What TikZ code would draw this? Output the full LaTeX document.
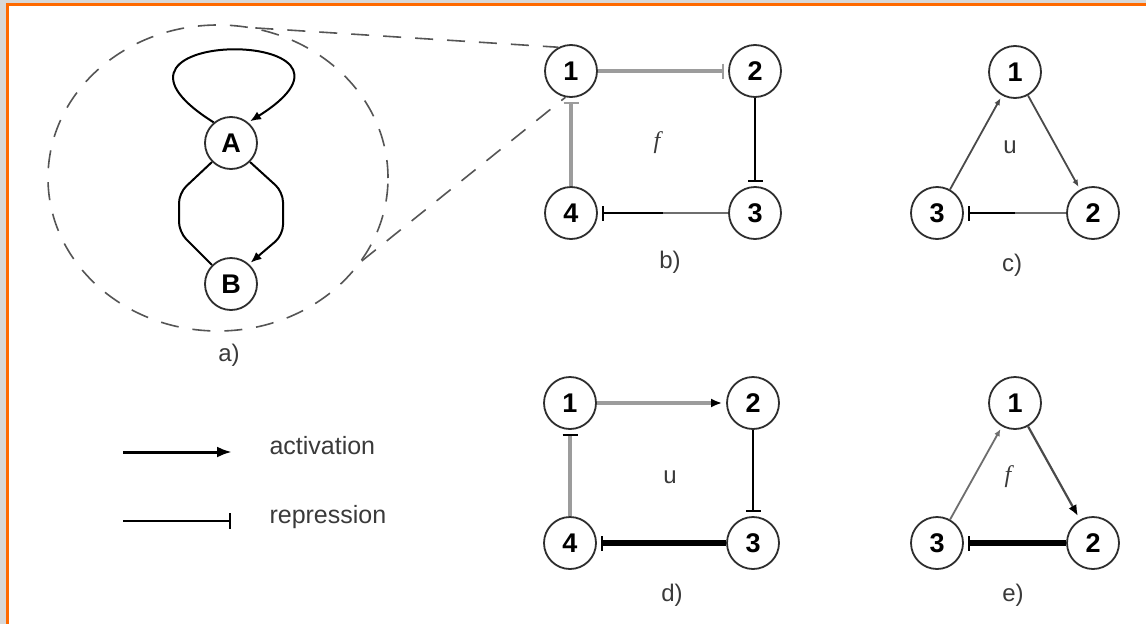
\documentclass[tikz,border=0pt]{standalone}
\usepackage{fontspec}
\setmainfont{Liberation Sans}
\newfontfamily\itserif{Liberation Serif}
\usetikzlibrary{arrows.meta,shapes.geometric,calc}

\definecolor{framegray}{HTML}{D8D8D8}
\definecolor{frameorange}{HTML}{FF6A00}
\definecolor{ringgray}{HTML}{2E2E2E}
\definecolor{lightedge}{HTML}{9C9C9C}
\definecolor{midedge}{HTML}{6E6E6E}
\definecolor{darkedge}{HTML}{4A4A4A}
\definecolor{dashgray}{HTML}{555555}
\definecolor{textgray}{HTML}{3A3A3A}

\tikzset{
  gene/.style={circle, draw=ringgray, line width=1.8pt, fill=white,
    minimum size=52pt, inner sep=0pt,
    font=\bfseries\fontsize{27}{27}\selectfont},
  act/.style={-{Latex[length=11pt,width=9pt]}, shorten >=4pt},
  smallact/.style={-{Latex[length=7pt,width=6pt]}, shorten >=3pt},
  rep/.style={-{Bar[width=15pt,line width=2.5pt]}, shorten >=4pt},
  lens/.style={ellipse, draw=dashgray, line width=1.6pt,
    dash pattern=on 18pt off 14pt, minimum width=340pt,
    minimum height=306pt, inner sep=0pt},
  zoomline/.style={draw=dashgray, line width=1.6pt,
    dash pattern=on 18pt off 14pt},
  caption/.style={text=textgray, font=\fontsize{24}{24}\selectfont},
  legendtext/.style={text=textgray, anchor=west,
    font=\fontsize{25}{25}\selectfont},
  midtext/.style={text=textgray, font=\fontsize{24}{24}\selectfont},
}

\begin{document}
\begin{tikzpicture}[x=1pt,y=-1pt]
  \useasboundingbox (0,0) rectangle (1146,624);

  % frame
  \fill[framegray] (0,0) rectangle (1146,624);
  \fill[frameorange] (6,3) rectangle (1146,624);
  \fill[white] (9,6) rectangle (1146,624);

  % ---------- a) two-gene motif inside the lens ----------
  \node[lens] (lens) at (218,178) {};
  \node[gene] (A) at (231,143) {A};
  \node[gene] (B) at (231,284) {B};

  \draw[black, line width=2pt, act, shorten >=2pt]
    (A.130) .. controls (60,26) and (402,26) .. (A.50);
  \draw[black, line width=2pt, rounded corners=10pt]
    (A.225) -- (179,193) -- (179,232) -- (B.135);
  \draw[black, line width=2pt, rounded corners=10pt, act, shorten >=2pt]
    (A.-45) -- (283,192) -- (283,235) -- (B.48);
  \node[caption] (capa) at (229,355) {a)};

  % ---------- b) four-gene loop ----------
  \node[gene] (b1) at (571,71) {1};
  \node[gene] (b2) at (755,71) {2};
  \node[gene] (b3) at (755,213) {3};
  \node[gene] (b4) at (571,213) {4};

  % zoom lines from the lens to gene 1
  \draw[zoomline] (lens.76) -- (b1.118);
  \draw[zoomline] (lens.-30) -- (b1.258);

  \draw[lightedge, line width=3.5pt, rep] (b1) -- (b2);
  \draw[black, line width=2.5pt, rep] (b2) -- (b3);
  \draw[black, line width=2.5pt, rep] (b3) -- (b4);
  \draw[midedge, line width=2.5pt] (b3) -- ($(b3)!0.5!(b4)$);
  \draw[lightedge, line width=3.5pt, rep] (b4) -- (b1);
  \node[midtext] (fb) at (657,143) {\itserif\itshape f};
  \node[caption] (capb) at (670,262) {b)};

  % ---------- c) three-gene loop ----------
  \node[gene] (c1) at (1015,72) {1};
  \node[gene] (c2) at (1093,213) {2};
  \node[gene] (c3) at (937,213) {3};

  \draw[darkedge, line width=1.8pt, smallact] (c3) -- (c1);
  \draw[darkedge, line width=1.8pt, smallact] (c1) -- (c2);
  \draw[black, line width=2.5pt, rep] (c2) -- (c3);
  \draw[midedge, line width=2.5pt] (c2) -- ($(c2)!0.5!(c3)$);
  \node[midtext] (uc) at (1010,147) {u};
  \node[caption] (capc) at (1012,265) {c)};

  % ---------- d) four-gene loop ----------
  \node[gene] (d1) at (570,403) {1};
  \node[gene] (d2) at (753,403) {2};
  \node[gene] (d3) at (753,543) {3};
  \node[gene] (d4) at (570,543) {4};

  \draw[lightedge, line width=3.5pt, act, -{Latex[length=11pt,width=9pt,color=black]}] (d1) -- (d2);
  \draw[black, line width=2.5pt, rep] (d2) -- (d3);
  \draw[black, line width=5.5pt, -{Bar[width=15pt,line width=2.5pt]}, shorten >=4pt] (d3) -- (d4);
  \draw[lightedge, line width=3.5pt, -{Bar[width=15pt,line width=2.5pt,color=black]}, shorten >=4pt] (d4) -- (d1);
  \node[midtext] (ud) at (670,477) {u};
  \node[caption] (capd) at (672,595) {d)};

  % ---------- e) three-gene loop ----------
  \node[gene] (e1) at (1015,403) {1};
  \node[gene] (e2) at (1093,543) {2};
  \node[gene] (e3) at (937,543) {3};

  \draw[midedge, line width=1.8pt, smallact] (e3) -- (e1);
  \draw[darkedge, line width=2.2pt, -{Latex[length=11pt,width=9pt,color=black]}, shorten >=4pt] (e1) -- (e2);
  \draw[black, line width=5.5pt, -{Bar[width=15pt,line width=2.5pt]}, shorten >=4pt] (e2) -- (e3);
  \node[midtext] (fe) at (1008,477) {\itserif\itshape f};
  \node[caption] (cape) at (1013,595) {e)};

  % ---------- legend ----------
  \coordinate (actfrom) at (123,452);
  \coordinate (actto) at (232,452);
  \coordinate (repfrom) at (123,521);
  \coordinate (repto) at (231,521);
  \draw[black, line width=3pt, -{Latex[length=15pt,width=11pt]}] (actfrom) -- (actto);
  \draw[black, line width=2pt, -{Bar[width=16pt,line width=2.5pt]}] (repfrom) -- (repto);
  \node[legendtext] (actlabel) at (266,446) {activation};
  \node[legendtext] (replabel) at (266,517) {repression};
\end{tikzpicture}
\end{document}
